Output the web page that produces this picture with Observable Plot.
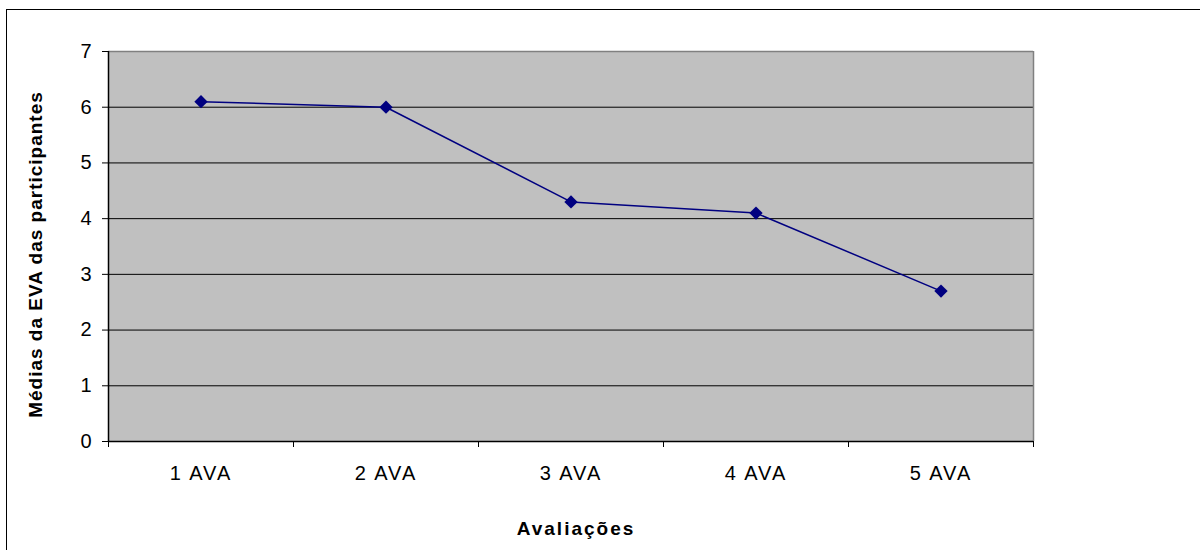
<!DOCTYPE html>
<html>
<head>
<meta charset="utf-8">
<script src="https://cdn.jsdelivr.net/npm/d3@7"></script>
<script src="https://cdn.jsdelivr.net/npm/@observablehq/plot@0.6"></script>
<style>
  html, body { margin: 0; padding: 0; background: #fff; overflow: hidden; width: 1200px; height: 550px; }
  #wrap { position: relative; width: 1200px; height: 550px; }
  #border { position: absolute; left: 6px; top: 9px; right: -10px; bottom: -10px; border-left: 1px solid #000; border-top: 1px solid #000; pointer-events: none; }
  #chart { position: absolute; left: 0; top: 0; }
</style>
</head>
<body>
<div id="wrap"><div id="chart"></div><div id="border"></div></div>
<script>
const categories = ["1 AVA", "2 AVA", "3 AVA", "4 AVA", "5 AVA"];
const values = [6.1, 6.0, 4.3, 4.1, 2.7];
const yTicks = [0, 1, 2, 3, 4, 5, 6, 7];
const yTitle = "Médias da EVA das participantes";
const xTitle = "Avaliações";

const data = categories.map((c, i) => ({i: i + 1, cat: c, v: values[i]}));
const boundaries = d3.range(0, categories.length + 1).map(k => k + 0.5);
const centers = data.map(d => d.i);

const chart = Plot.plot({
  width: 1200,
  height: 550,
  marginLeft: 108,
  marginRight: 167,
  marginTop: 51,
  marginBottom: 109,
  style: {fontFamily: "'Liberation Sans', Arial, sans-serif", background: "transparent"},
  x: {type: "linear", domain: [0.5, categories.length + 0.5]},
  y: {domain: [0, 7]},
  marks: [
    Plot.frame({fill: "#c0c0c0", stroke: null}),
    Plot.ruleY(yTicks.filter(t => t > 0 && t < 7), {stroke: "#000", strokeWidth: 1}),
    Plot.ruleY([7], {stroke: "#808080", strokeWidth: 1.5}),
    Plot.ruleX([categories.length + 0.5], {stroke: "#808080", strokeWidth: 1.5}),
    Plot.ruleX([0.5], {stroke: "#000", strokeWidth: 1.5}),
    Plot.ruleY([0], {stroke: "#000", strokeWidth: 1.5}),
    Plot.axisY({ticks: yTicks, tickSize: 6, tickPadding: 11, fontSize: 20, tickFormat: d3.format("d"), label: null, stroke: "#000"}),
    Plot.axisX({ticks: boundaries, tickSize: 6, tickFormat: () => "", label: null, stroke: "#000"}),
    Plot.axisX({ticks: centers, tickSize: 0, tickPadding: 24, fontSize: 20, tickFormat: i => categories[i - 1], label: null}),
    Plot.line(data, {x: "i", y: "v", stroke: "#000080", strokeWidth: 1.5}),
    Plot.dot(data, {x: "i", y: "v", symbol: "diamond2", r: 6, fill: "#000080", stroke: "none"}),
    Plot.text([yTitle], {frameAnchor: "left", text: d => d, rotate: -90, dx: -73, dy: 8, fontSize: 19, fontWeight: "bold", textAnchor: "middle", lineAnchor: "middle"}),
    Plot.text([xTitle], {frameAnchor: "bottom", text: d => d, dx: 5, dy: 93, fontSize: 19, fontWeight: "bold", textAnchor: "middle", lineAnchor: "bottom"})
  ]
});
document.getElementById("chart").appendChild(chart);

d3.select(chart).selectAll("text").each(function() {
  const t = this.textContent;
  let ls = null;
  if (categories.includes(t)) ls = "2px";
  else if (t === yTitle) ls = "1px";
  else if (t === xTitle) ls = "2px";
  if (ls) this.setAttribute("letter-spacing", ls), this.style.letterSpacing = ls;
});
</script>
</body>
</html>
